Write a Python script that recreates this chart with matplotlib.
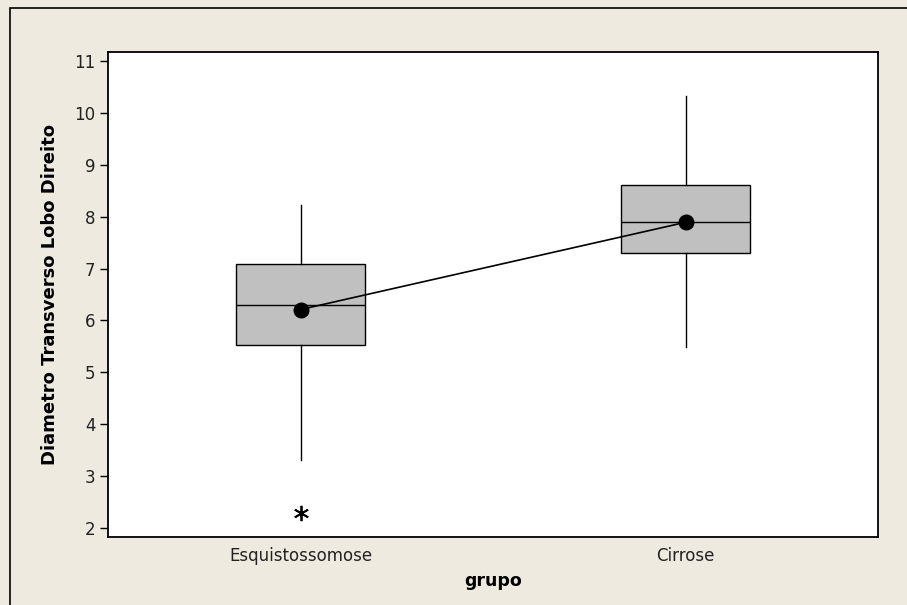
import matplotlib.pyplot as plt
from matplotlib.patches import Rectangle

# ---------------------------------------------------------------------------
# Data
# ---------------------------------------------------------------------------
groups = ['Esquistossomose', 'Cirrose']
q1 = [5.53, 7.30]
medians = [6.29, 7.90]
q3 = [7.08, 8.61]
whisker_low = [3.31, 5.49]
whisker_high = [8.22, 10.32]
means = [6.21, 7.89]
outliers = [[2.29], []]

yticks = [2, 3, 4, 5, 6, 7, 8, 9, 10, 11]

BG = '#EEEAE0'
BOX = '#C0C0C0'

plt.rcParams['font.family'] = ['DejaVu Sans']

fig = plt.figure(figsize=(9.07, 6.05), dpi=100, facecolor=BG)
ax = fig.add_axes([108 / 907, 68 / 605, 770 / 907, 485 / 605])

# outer frame (left and top edges visible, rest runs off the image)
fig.patches.append(Rectangle((10 / 907, -0.1), 1.2, 1.1 - 8 / 605,
                             transform=fig.transFigure, fill=False,
                             edgecolor='black', lw=1.2, zorder=0))

stats = []
for i, name in enumerate(groups):
    stats.append(dict(label=name, q1=q1[i], med=medians[i], q3=q3[i],
                      whislo=whisker_low[i], whishi=whisker_high[i],
                      fliers=outliers[i]))

positions = list(range(1, len(groups) + 1))
ax.bxp(stats, positions=positions, widths=0.335, patch_artist=True,
       showcaps=False, showfliers=True,
       boxprops=dict(facecolor=BOX, edgecolor='black', lw=1.0),
       medianprops=dict(color='black', lw=1.0),
       whiskerprops=dict(color='black', lw=1.0),
       flierprops=dict(marker=(6, 2, 0), markersize=11,
                       markeredgecolor='black', markeredgewidth=1.3))

# mean connect line
ax.plot(positions, means, color='black', lw=1.2, marker='o',
        markersize=10.5, markerfacecolor='black', zorder=5)

ax.set_xlim(0.5, 2.5)
ax.set_ylim(1.83, 11.17)
ax.set_yticks(yticks)
ax.set_xticks(positions)
ax.set_xticklabels(groups)
ax.tick_params(axis='y', length=6, width=1.0, labelsize=12, pad=3,
               labelcolor='#222222')
ax.tick_params(axis='x', length=0, labelsize=12, pad=7,
               labelcolor='#222222')

for s in ax.spines.values():
    s.set_linewidth(1.3)

ax.set_ylabel('Diametro Transverso Lobo Direito', fontsize=13,
              fontweight='bold', labelpad=11)
ax.set_xlabel('grupo', fontsize=12.5, fontweight='bold', labelpad=5)

fig.savefig('out.png', dpi=100, facecolor=BG)
